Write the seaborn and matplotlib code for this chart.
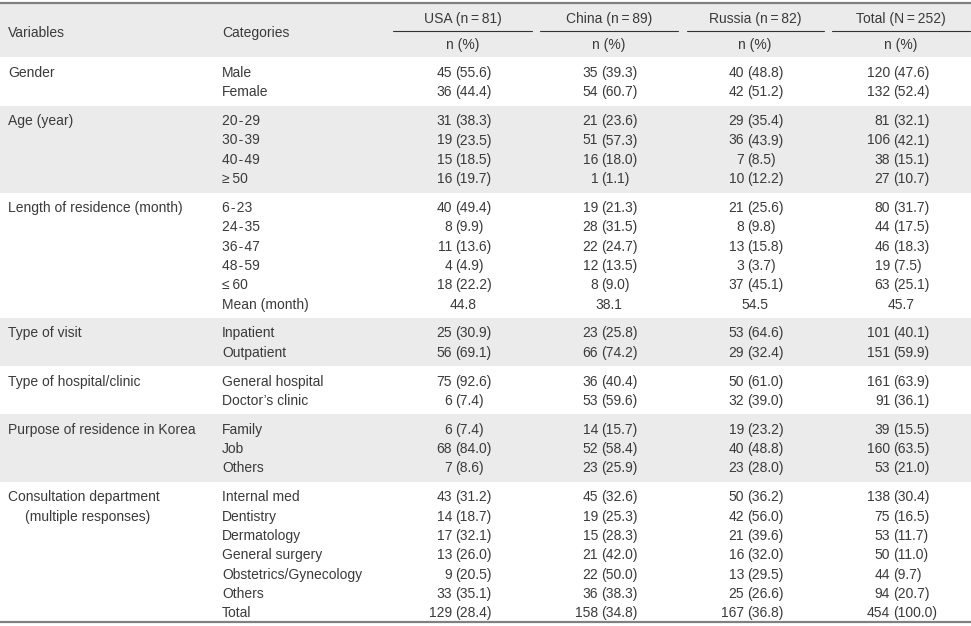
import matplotlib
matplotlib.use("Agg")
import matplotlib.pyplot as plt
import seaborn as sns

# table content
variables = ["Gender", "Age (year)", "Length of residence (month)", "Type of visit",
             "Type of hospital/clinic", "Purpose of residence in Korea",
             "Consultation department\n(multiple responses)"]
categories = [
    ["Male", "Female"],
    ["20\u200a-\u200a29", "30\u200a-\u200a39", "40\u200a-\u200a49", "\u2265\u200950"],
    ["6\u200a-\u200a23", "24\u200a-\u200a35", "36\u200a-\u200a47", "48\u200a-\u200a59", "\u2264\u200960", "Mean (month)"],
    ["Inpatient", "Outpatient"],
    ["General hospital", "Doctor\u2019s clinic"],
    ["Family", "Job", "Others"],
    ["Internal med", "Dentistry", "Dermatology", "General surgery",
     "Obstetrics/Gynecology", "Others", "Total"],
]
col_headers = ["USA (n\u2009=\u200981)", "China (n\u2009=\u200989)",
               "Russia (n\u2009=\u200982)", "Total (N\u2009=\u2009252)"]

usa = ["45 (55.6)", "36 (44.4)",
       "31 (38.3)", "19 (23.5)", "15 (18.5)", "16 (19.7)",
       "40 (49.4)", "8 (9.9)", "11 (13.6)", "4 (4.9)", "18 (22.2)", "44.8",
       "25 (30.9)", "56 (69.1)",
       "75 (92.6)", "6 (7.4)",
       "6 (7.4)", "68 (84.0)", "7 (8.6)",
       "43 (31.2)", "14 (18.7)", "17 (32.1)", "13 (26.0)", "9 (20.5)", "33 (35.1)", "129 (28.4)"]
china = ["35 (39.3)", "54 (60.7)",
         "21 (23.6)", "51 (57.3)", "16 (18.0)", "1 (1.1)",
         "19 (21.3)", "28 (31.5)", "22 (24.7)", "12 (13.5)", "8 (9.0)", "38.1",
         "23 (25.8)", "66 (74.2)",
         "36 (40.4)", "53 (59.6)",
         "14 (15.7)", "52 (58.4)", "23 (25.9)",
         "45 (32.6)", "19 (25.3)", "15 (28.3)", "21 (42.0)", "22 (50.0)", "36 (38.3)", "158 (34.8)"]
russia = ["40 (48.8)", "42 (51.2)",
          "29 (35.4)", "36 (43.9)", "7 (8.5)", "10 (12.2)",
          "21 (25.6)", "8 (9.8)", "13 (15.8)", "3 (3.7)", "37 (45.1)", "54.5",
          "53 (64.6)", "29 (32.4)",
          "50 (61.0)", "32 (39.0)",
          "19 (23.2)", "40 (48.8)", "23 (28.0)",
          "50 (36.2)", "42 (56.0)", "21 (39.6)", "16 (32.0)", "13 (29.5)", "25 (26.6)", "167 (36.8)"]
total = ["120 (47.6)", "132 (52.4)",
         "81 (32.1)", "106 (42.1)", "38 (15.1)", "27 (10.7)",
         "80 (31.7)", "44 (17.5)", "46 (18.3)", "19 (7.5)", "63 (25.1)", "45.7",
         "101 (40.1)", "151 (59.9)",
         "161 (63.9)", "91 (36.1)",
         "39 (15.5)", "160 (63.5)", "53 (21.0)",
         "138 (30.4)", "75 (16.5)", "53 (11.7)", "50 (11.0)", "44 (9.7)", "94 (20.7)", "454 (100.0)"]

sns.set_theme(style="white")
plt.rcParams['font.family'] = ['Liberation Sans', 'DejaVu Sans']

TXT = "#3a3a3a"
BAND = "#ebebeb"
FS = 10

fig = plt.figure(figsize=(9.71, 6.26), dpi=100)
ax = fig.add_axes([0, 0, 1, 1])
ax.set_xlim(0, 971)
ax.set_ylim(626, 0)
ax.axis("off")

# layout (pixel units)
first_y = 72
pitch = 19.3
gap = 9.6
col_center = [463, 609, 755, 901]
col_span = [(393, 532), (540, 678), (687, 824), (832, 970)]
x_var, x_cat = 8, 222
base = 5  # baseline offset from visual centre

# row centres per group
row_y = []
bounds = []
y = first_y
for gi, cats in enumerate(categories):
    ys = []
    for _ in cats:
        ys.append(y)
        y += pitch
    row_y.append(ys)
    y += gap
for gi in range(len(categories)):
    top = 57 if gi == 0 else (row_y[gi - 1][-1] + row_y[gi][0]) / 2
    bot = 622 if gi == len(categories) - 1 else (row_y[gi][-1] + row_y[gi + 1][0]) / 2
    bounds.append((top, bot))

# header band + grey group bands
ax.axhspan(3, 57, color=BAND, lw=0, zorder=0)
for gi, (top, bot) in enumerate(bounds):
    if gi % 2 == 1:
        ax.axhspan(top, bot, color=BAND, lw=0, zorder=0)

ax.axhline(2.5, color="#808080", lw=1.6, zorder=2)
ax.axhline(622, color="#808080", lw=1.6, zorder=2)

# header
ax.text(x_var, 32 + base, "Variables", fontsize=FS, color=TXT, va="baseline")
ax.text(x_cat, 32 + base, "Categories", fontsize=FS, color=TXT, va="baseline")
for head, cx, (x0, x1) in zip(col_headers, col_center, col_span):
    ax.text(cx, 18 + base, head, fontsize=FS, color=TXT, ha="center", va="baseline")
    ax.plot([x0, x1], [31, 31], color="#333333", lw=0.8)
    ax.text(cx, 44 + base, "n (%)", fontsize=FS, color=TXT, ha="center", va="baseline")

# body
columns = [usa, china, russia, total]
k = 0
for gi, cats in enumerate(categories):
    ys = row_y[gi]
    vlines = variables[gi].split("\n")
    for li, line in enumerate(vlines):
        ax.text(x_var + (17 if li > 0 else 0), ys[li] + base, line,
                fontsize=FS, color=TXT, va="baseline")
    for cat, yy in zip(cats, ys):
        ax.text(x_cat, yy + base, cat, fontsize=FS, color=TXT, va="baseline")
        for col, cx in zip(columns, col_center):
            val = col[k]
            px = cx - 8
            if " (" in val:
                n, pct = val.split(" (")
                ax.text(px - 2.8, yy + base, n, fontsize=FS, color=TXT, ha="right", va="baseline")
                ax.text(px, yy + base, "(" + pct, fontsize=FS, color=TXT, ha="left", va="baseline")
            else:
                ax.text(cx, yy + base, val, fontsize=FS, color=TXT, ha="center", va="baseline")
        k += 1

fig.savefig("out.png", dpi=100)
